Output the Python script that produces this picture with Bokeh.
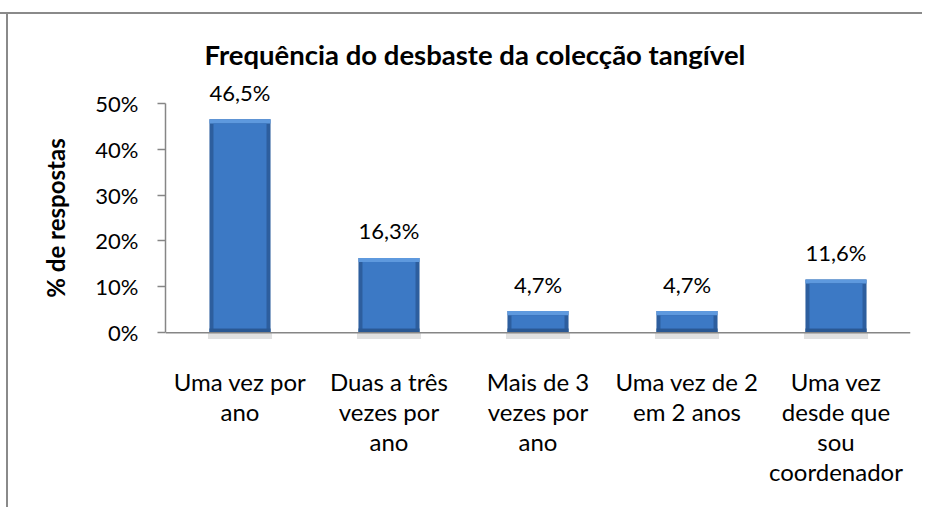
from bokeh.plotting import figure
from bokeh.models import (ColumnDataSource, LabelSet, NumeralTickFormatter, FixedTicker,
                          Range1d, FactorRange, CategoricalAxis, CustomJSTickFormatter, Span)
from bokeh.core.properties import value
from bokeh.embed import file_html
from bokeh.resources import INLINE

# ---- data ----
categories = ["Uma vez por ano", "Duas a três vezes por ano", "Mais de 3 vezes por ano",
              "Uma vez de 2 em 2 anos", "Uma vez desde que sou coordenador"]
category_lines = [["Uma vez por", "ano"],
                  ["Duas a três", "vezes por", "ano"],
                  ["Mais de 3", "vezes por", "ano"],
                  ["Uma vez de 2", "em 2 anos"],
                  ["Uma vez", "desde que", "sou", "coordenador"]]
values = [0.465, 0.163, 0.047, 0.047, 0.116]
y_ticks = [0.0, 0.1, 0.2, 0.3, 0.4, 0.5]
chart_title = "Frequência do desbaste da colecção tangível"
y_label = "% de respostas"

FONT = "Lato"
AXIS_GRAY = "#868686"
FRAME_GRAY = "#8a8a8a"

W, H = 922, 507
pad = 0.065  # equal room below 0% and above 50% keeps the axis title centred on 0-50%
p = figure(width=W, height=H, output_backend="svg", toolbar_location=None,
           x_range=FactorRange(*categories, range_padding=0),
           y_range=Range1d(-pad, y_ticks[-1] + pad),
           min_border_left=165, min_border_right=12, min_border_top=73, min_border_bottom=H - 362,
           title=chart_title)
# outer chart-area border (top and left edges visible), drawn behind a transparent canvas
p.border_fill_color = None
p.styles = {
    "background": ("linear-gradient(%s,%s) 0 12px / 100%% 2px no-repeat, "
                   "linear-gradient(%s,%s) 6px 12px / 2px 100%% no-repeat, white")
                  % (FRAME_GRAY, FRAME_GRAY, FRAME_GRAY, FRAME_GRAY)
}
p.outline_line_color = None
p.background_fill_color = "white"
p.xgrid.visible = False
p.ygrid.visible = False

p.title.text_font = FONT
p.title.text_font_style = "bold"
p.title.text_font_size = "27.5px"
p.title.align = "left"
p.title.offset = 39
p.title.standoff = 5
p.title.text_color = "black"

# bars with a bevel look and a soft shadow under the baseline
bev = 0.009
src = ColumnDataSource(dict(
    cat=categories, v=values,
    bev_bottom=[v - bev for v in values],
    labels=[("%.1f%%" % (v * 100)).replace(".", ",") for v in values],
))
p.vbar(x="cat", top=0, bottom=-0.014, width=0.43, source=src, fill_color="#d4d4d4",
       fill_alpha=0.7, line_color=None)
p.vbar(x="cat", top="v", bottom=0, width=0.41, source=src, fill_color="#2d5e9e", line_color=None)
p.vbar(x="cat", top="v", bottom="bev_bottom", width=0.41, source=src, fill_color="#5e99de", line_color=None)
p.vbar(x="cat", top=bev, bottom=0, width=0.41, source=src, fill_color="#2a5893", line_color=None)
p.vbar(x="cat", top="bev_bottom", bottom=bev, width=0.356, source=src, fill_color="#3c79c5", line_color=None)

# category baseline at 0%
p.add_layout(Span(location=0, dimension="width", line_color=AXIS_GRAY, line_width=1.5))

p.add_layout(LabelSet(x="cat", y="v", text="labels", source=src, y_offset=27,
                      text_align="center", text_baseline="middle",
                      text_font=value(FONT), text_font_size=value("22px"), text_color="black"))

# y axis
ya = p.yaxis[0]
ya.ticker = FixedTicker(ticks=y_ticks)
ya.bounds = (y_ticks[0], y_ticks[-1])
ya.formatter = NumeralTickFormatter(format="0%")
ya.axis_line_color = AXIS_GRAY
ya.axis_line_width = 1.5
ya.major_tick_line_color = AXIS_GRAY
ya.major_tick_line_width = 1.5
ya.major_tick_out = 8
ya.major_tick_in = 0
ya.minor_tick_line_color = None
ya.major_label_text_font = FONT
ya.major_label_text_font_size = "22px"
ya.major_label_text_color = "black"
ya.major_label_standoff = 19
ya.axis_label = y_label
ya.axis_label_text_font = FONT
ya.axis_label_text_font_style = "bold"
ya.axis_label_text_font_size = "24px"
ya.axis_label_text_color = "black"
ya.axis_label_standoff = 22

# x axes: one per text line of the wrapped category names
n_lines = max(len(l) for l in category_lines)
for k in range(n_lines):
    if k == 0:
        xa = p.xaxis[0]
        xa.major_label_standoff = 4
    else:
        xa = CategoricalAxis()
        xa.major_label_standoff = -2
        p.add_layout(xa, "below")
    xa.axis_line_color = None
    xa.major_tick_line_color = None
    xa.major_tick_out = 0
    xa.major_tick_in = 0
    xa.minor_tick_line_color = None
    xa.formatter = CustomJSTickFormatter(
        args=dict(factors=categories, lines=[(l[k] if k < len(l) else " ") for l in category_lines]),
        code="const i = factors.indexOf(tick); return i >= 0 ? lines[i] : ' ';")
    xa.major_label_text_font = FONT
    xa.major_label_text_font_size = "24px"
    xa.major_label_text_color = "black"

open("out.html", "w").write(file_html(p, INLINE))
